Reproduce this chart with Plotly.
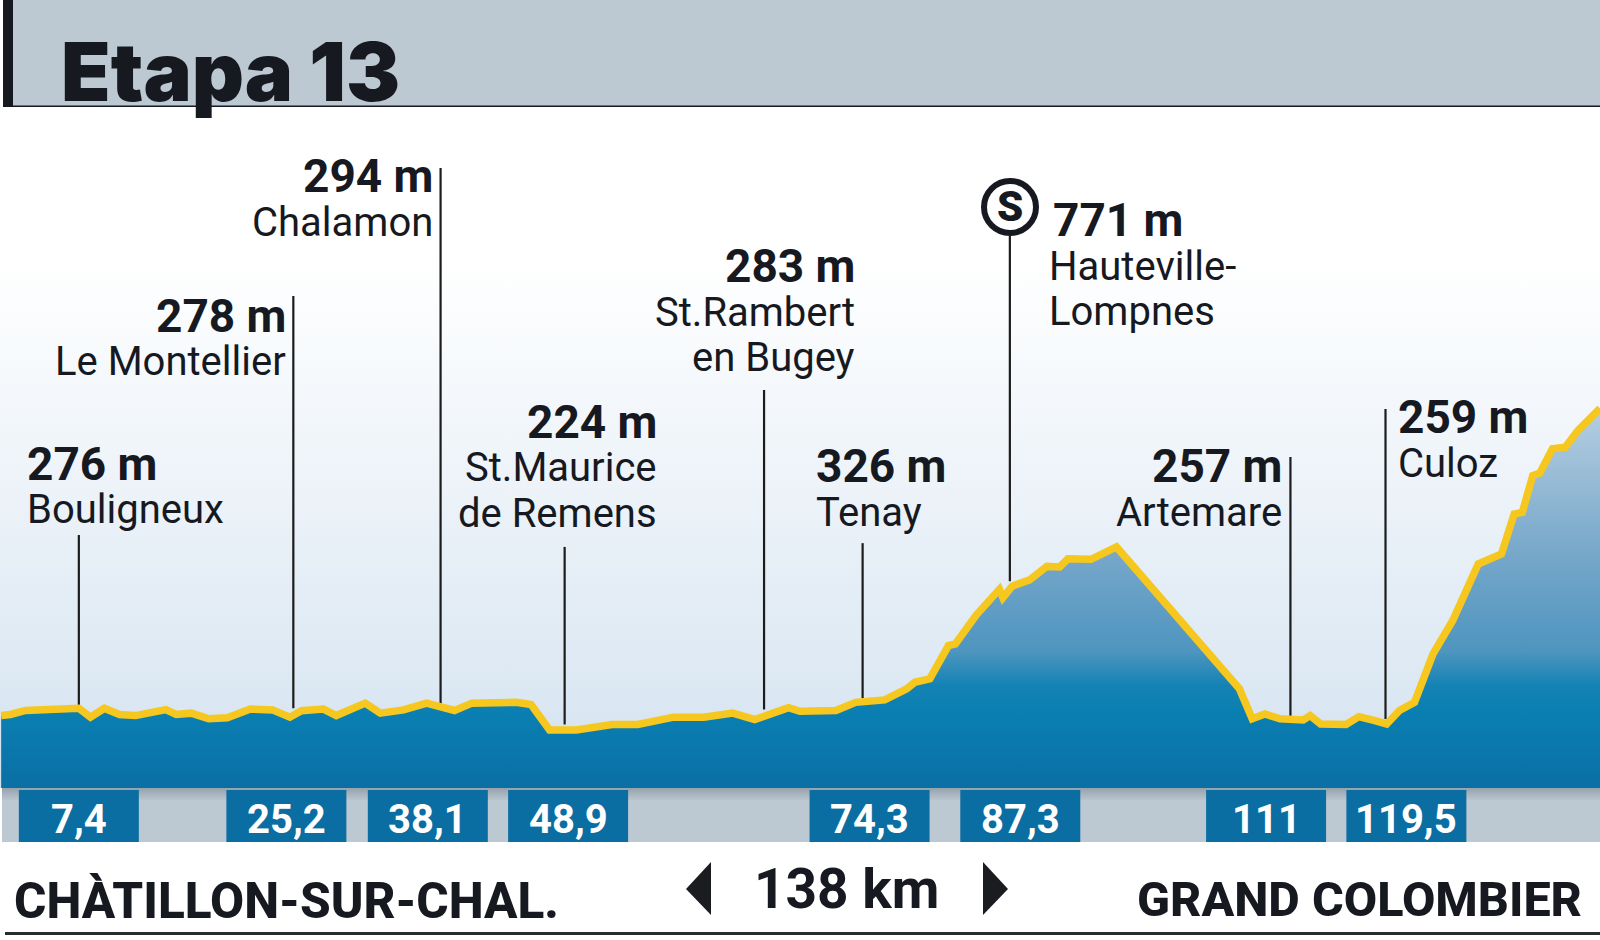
import plotly.graph_objects as go

# altitude profile of the stage (km, m)
profile_km = [0.1, 0.9, 2.2, 4.4, 6.8, 7.8, 9.0, 10.3, 11.7, 14.3, 15.2, 16.5, 18.0, 19.6, 21.6, 23.5, 25.0,
              26.0, 27.9, 29.0, 31.5, 32.8, 34.8, 36.8, 39.2, 40.7, 44.5, 45.8, 47.4, 49.7, 52.8, 55.0, 58.1,
              60.7, 63.2, 65.1, 68.0, 69.0, 72.1, 73.8, 76.3, 78.2, 78.9, 80.2, 81.8, 82.4, 84.2, 86.2, 86.5,
              87.3, 88.8, 90.3, 91.4, 92.1, 94.1, 96.3, 106.9, 108.0, 109.1, 110.4, 112.4, 113.0, 113.9, 116.1,
              117.2, 118.5, 119.6, 120.7, 122.0, 123.6, 125.3, 127.5, 129.5, 130.6, 131.3, 132.2, 132.8, 133.9,
              135.0, 136.1, 138.0]
profile_alt = [268, 272, 287, 290, 295, 262, 295, 272, 268, 290, 272, 277, 256, 260, 292, 289, 262,
               286, 292, 268, 314, 277, 289, 314, 287, 314, 317, 309, 215, 215, 235, 235, 262,
               262, 277, 253, 297, 284, 287, 317, 326, 367, 391, 404, 527, 533, 640, 735, 704,
               747, 770, 820, 818, 848, 846, 892, 367, 256, 274, 256, 252, 268, 237, 235,
               264, 250, 237, 287, 317, 496, 620, 829, 866, 1014, 1020, 1156, 1165, 1255,
               1261, 1323, 1405]

# places on the route
stem_km = [6.8, 25.3, 38.0, 48.7, 65.9, 74.4, 87.1, 111.3, 119.5]
stem_base = [300, 295, 312, 235, 290, 332, 765, 265, 255]
stem_top = [936, 1820, 2294, 892, 1473, 906, 2042, 1225, 1402]
heights = ['276 m', '278 m', '294 m', '224 m', '283 m', '326 m', '771 m', '257 m', '259 m']
places = [['Bouligneux'], ['Le Montellier'], ['Chalamon'], ['St.Maurice', 'de Remens'], ['St.Rambert', 'en Bugey'],
          ['Tenay'], ['Hauteville-', 'Lompnes'], ['Artemare'], ['Culoz']]

# kilometre boxes under the profile
box_km = [6.8, 24.7, 36.9, 49.0, 75.0, 88.0, 109.2, 121.3]
box_labels = ['7,4', '25,2', '38,1', '48,9', '74,3', '87,3', '111', '119,5']

title = 'Etapa 13'
start_name = 'CHÀTILLON-SUR-CHAL.'
finish_name = 'GRAND COLOMBIER'
distance = '138 km'

# where each label block sits on the page: x of height, x of place, anchor, y of height, y of each place line
label_pos = [(26, 26, 'left', 464, [510]), (287, 287, 'right', 316, [362]), (434, 434, 'right', 176, [222]),
             (658, 658, 'right', 422, [468, 513]), (856, 856, 'right', 266, [312, 357]),
             (815, 815, 'left', 466, [512]), (1052, 1048, 'left', 220, [266, 311]),
             (1283, 1283, 'right', 466, [512]), (1397, 1397, 'left', 417, [463])]

W, H = 1600, 940
INK = '#16191f'
GREY = '#bdc9d2'


def px(x):
    return x / W


def py(y):
    return 1 - y / H


def rect(x0, y0, x1, y1, color, opacity=1):
    return dict(type='rect', xref='paper', yref='paper', x0=px(x0), x1=px(x1), y0=py(y0), y1=py(y1),
                fillcolor=color, opacity=opacity, line_width=0, layer='below')


def triangle(points):
    path = 'M ' + ' L '.join(f'{px(a)} {py(b)}' for a, b in points) + ' Z'
    return dict(type='path', xref='paper', yref='paper', path=path, fillcolor='#1a1c20', line_width=0)


def text(x, y, s, size, anchor='left', weight=400, color=INK, family='Roboto'):
    return dict(x=px(x), y=py(y), xref='paper', yref='paper', text=s, showarrow=False, xanchor=anchor,
                yanchor='middle', borderpad=0,
                font=dict(family=family, size=size, color=color, weight=weight))


fig = go.Figure()

# pale sky behind the profile
fig.add_trace(go.Scatter(x=[0, 138, 138, 0], y=[0, 0, 2520, 2520], mode='none', fill='toself',
                         fillgradient=dict(type='vertical', start=0, stop=2520,
                                           colorscale=[[0, '#d3e2ef'], [0.2, '#dfeaf4'], [0.5, '#f0f5fa'],
                                                       [0.78, '#ffffff'], [1, '#ffffff']]),
                         hoverinfo='skip', showlegend=False))

# km boxes
fig.add_trace(go.Bar(x=box_km, y=[-193] * len(box_km), base=-7, width=10.35, marker_color='#0a6ea3',
                     marker_line_width=0, hoverinfo='skip', showlegend=False))

# stems
for km, base, top in zip(stem_km, stem_base, stem_top):
    fig.add_trace(go.Scatter(x=[km, km], y=[base, top], mode='lines', line=dict(color='#1c1c1c', width=2.2),
                             hoverinfo='skip', showlegend=False))

# profile
fig.add_trace(go.Scatter(x=profile_km, y=profile_alt, mode='lines', fill='tozeroy',
                         line=dict(color='#f6c71e', width=7.5, shape='linear'),
                         fillgradient=dict(type='vertical', start=0, stop=1405,
                                           colorscale=[[0, '#0a6fa5'], [0.2, '#0a7fb2'], [0.27, '#1483b4'],
                                                       [0.36, '#4e95bf'], [0.6, '#74a6c9'], [1, '#b6cee1']]),
                         hoverinfo='skip', showlegend=False))

shapes = [rect(3, 0, W, 107, GREY), rect(3, 0, 13, 107, INK), rect(3, 105.5, W, 108, INK),
          rect(2, 788, W, 842, GREY), rect(5, 932, W, 935, '#2a2a2a'),
          triangle([(711, 862), (686, 889), (711, 915)]), triangle([(983, 862), (1008, 889), (983, 915)]),
          dict(type='circle', xref='paper', yref='paper', x0=px(984), x1=px(1036), y0=py(181), y1=py(233),
               fillcolor='white', line=dict(color='#16191f', width=6))]
# soft shadow under the profile
for i in range(6):
    shapes.append(rect(2, 788 + i * 2, W, 790 + i * 2, '#44525c', 0.3 - i * 0.05))

annotations = [text(60, 72, title, 81, weight=900, family='Inter'), text(1010, 206, 'S', 42, 'center', 900),
               text(13, 901, start_name, 49.5, weight=800), text(1583, 899, finish_name, 48.5, 'right', 800),
               text(846, 889, distance, 55, 'center', 700)]
for h, names, (x_h, x_p, anchor, y_h, y_names) in zip(heights, places, label_pos):
    annotations.append(text(x_h, y_h, h, 46, anchor, 700))
    for name, y in zip(names, y_names):
        annotations.append(text(x_p, y, name, 40, anchor))
for km, label in zip(box_km, box_labels):
    annotations.append(dict(x=km, xref='x', y=py(819), yref='paper', text=label, showarrow=False, xanchor='center',
                            yanchor='middle', font=dict(family='Roboto', size=40, color='white', weight=700)))

fig.update_layout(width=W, height=H, margin=dict(l=0, r=0, t=0, b=0), paper_bgcolor='white', plot_bgcolor='white',
                  showlegend=False, shapes=shapes, annotations=annotations,
                  xaxis=dict(visible=False, range=[0, 138], fixedrange=True),
                  yaxis=dict(visible=False, range=[-562.4, 2915.6], fixedrange=True))

# the page's default body margin would push the chart off the grid
fig.write_html("out.html", config={'displayModeBar': False}, post_script="document.body.style.margin='0';")
